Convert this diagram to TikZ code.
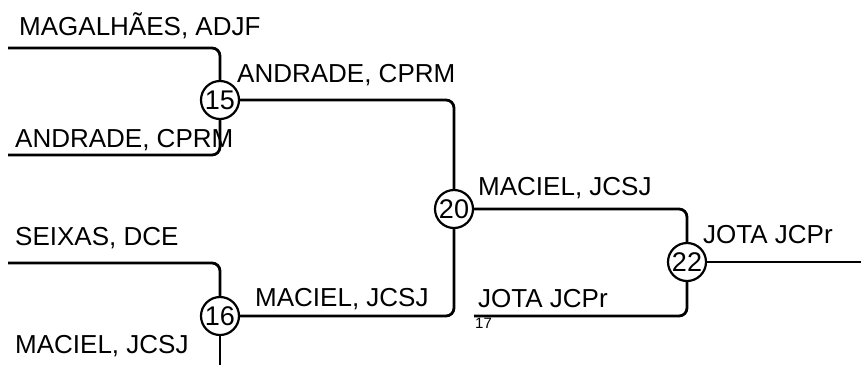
\documentclass[tikz,border=0pt]{standalone}
\usepackage{fontspec}
\setmainfont{Liberation Sans}
\usepackage{tikz}
\tikzset{
  wire/.style={line width=2.8pt,rounded corners=8pt},
  game/.style={circle,draw,line width=2.2pt,minimum size=38pt,inner sep=0pt,font=\fontsize{27}{30}\selectfont},
  player/.style={anchor=base west,inner sep=0pt,font=\fontsize{26}{30}\selectfont},
  seedno/.style={anchor=north west,inner sep=0pt,font=\fontsize{15}{17}\selectfont}
}
\begin{document}
\begin{tikzpicture}[x=1pt,y=-1pt]
\useasboundingbox (0,0) rectangle (861,365);
% games
\node[game] (g15) at (220,100) {15};
\node[game] (g16) at (220,316) {16};
\node[game] (g20) at (454,209) {20};
\node[game] (g22) at (687,262) {22};
% free ends
\coordinate (magIn) at (8,48);
\coordinate (andIn) at (8,155);
\coordinate (seiIn) at (8,263);
\coordinate (macIn) at (220,365);
\coordinate (jotIn) at (474,316);
\coordinate (winOut) at (861,262);
% players
\node[player] (pMag) at (19,35) {MAGALHÃES, ADJF};
\node[player] (pAnd) at (15,147) {ANDRADE, CPRM};
\node[player] (pSei) at (15,245) {SEIXAS, DCE};
\node[player] (pMac) at (15,353) {MACIEL, JCSJ};
\node[player] (pAnd2) at (237,82) {ANDRADE, CPRM};
\node[player] (pMac2) at (255,306) {MACIEL, JCSJ};
\node[player] (pMac3) at (478,195) {MACIEL, JCSJ};
\node[player] (pJot) at (478,307) {JOTA JCPr};
\node[player] (pJot2) at (703,243) {JOTA JCPr};
\node[seedno] (s17) at (475,318) {17};
% bracket
\draw[wire] (magIn) -| (g15);
\draw[wire] (andIn) -| (g15);
\draw[wire] (seiIn) -| (g16);
\draw[wire] (g16) -- (macIn);
\draw[wire] (g15) -| (g20);
\draw[wire] (g16) -| (g20);
\draw[wire] (g20) -| (g22);
\draw[wire] (jotIn) -| (g22);
\draw[wire] (g22) -- (winOut);
\end{tikzpicture}
\end{document}
